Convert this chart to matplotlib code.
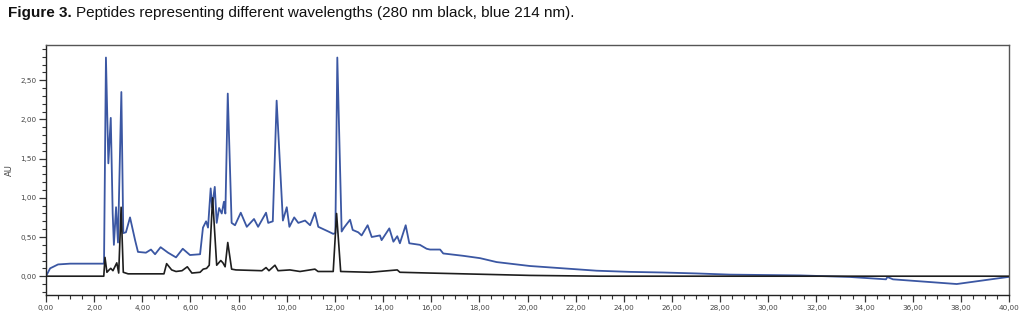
import matplotlib
matplotlib.use("Agg")
import matplotlib.pyplot as plt
from matplotlib.ticker import MultipleLocator, FuncFormatter

# Blue trace (214 nm): retention time (min) and absorbance (AU)
t_blue = [0.00, 0.17, 0.50, 1.00, 2.35, 2.41, 2.49, 2.59, 2.69, 2.77, 2.82, 2.91, 2.99,
          3.13, 3.21, 3.32, 3.49, 3.70, 3.82, 4.15, 4.36, 4.53, 4.76, 5.07, 5.40, 5.68,
          5.98, 6.40, 6.52, 6.65, 6.73, 6.84, 6.90, 7.01, 7.09, 7.19, 7.30, 7.39, 7.45,
          7.55, 7.71, 7.85, 8.09, 8.34, 8.64, 8.81, 9.14, 9.23, 9.42, 9.58, 9.84, 10.00,
          10.11, 10.31, 10.48, 10.76, 10.97, 11.17, 11.31, 11.45, 11.73, 11.93, 12.02,
          12.10, 12.28, 12.38, 12.63, 12.74, 12.97, 13.11, 13.36, 13.53, 13.87, 13.94,
          14.26, 14.43, 14.59, 14.70, 14.94, 15.09, 15.53, 15.81, 15.95, 16.37, 16.50,
          17.33, 18.03, 18.72, 20.10, 21.49, 22.87, 24.26, 25.64, 27.03, 28.41, 31.32,
          33.40, 34.89, 34.95, 35.18, 37.83, 39.96, 40.00]
au_blue = [0.00, 0.10, 0.15, 0.16, 0.16, 0.16, 2.79, 1.44, 2.02, 0.80, 0.40, 0.88, 0.43,
           2.35, 0.55, 0.56, 0.75, 0.46, 0.31, 0.30, 0.34, 0.28, 0.37, 0.30, 0.24, 0.35,
           0.27, 0.28, 0.62, 0.70, 0.62, 1.12, 0.88, 1.14, 0.68, 0.87, 0.80, 0.95, 0.80,
           2.33, 0.68, 0.65, 0.81, 0.63, 0.73, 0.63, 0.81, 0.68, 0.70, 2.24, 0.71, 0.88,
           0.63, 0.75, 0.68, 0.71, 0.65, 0.81, 0.63, 0.61, 0.57, 0.54, 0.55,
           2.79, 0.57, 0.62, 0.72, 0.59, 0.56, 0.52, 0.65, 0.50, 0.52, 0.46,
           0.61, 0.44, 0.51, 0.42, 0.65, 0.42, 0.40, 0.35, 0.34, 0.34, 0.29,
           0.26, 0.23, 0.18, 0.13, 0.10, 0.07, 0.055, 0.047, 0.035, 0.02, 0.01,
           -0.01, -0.04, -0.01, -0.04, -0.10, -0.01, -0.01]

# Black trace (280 nm)
t_black = [0.00, 2.40, 2.45, 2.53, 2.62, 2.69, 2.78, 2.94, 3.02, 3.12, 3.21, 3.41, 4.90,
           5.01, 5.22, 5.40, 5.65, 5.87, 6.06, 6.40, 6.53, 6.67, 6.78, 6.92, 7.09, 7.26,
           7.35, 7.44, 7.55, 7.71, 7.89, 8.97, 9.14, 9.26, 9.51, 9.64, 10.13, 10.55,
           11.17, 11.30, 11.93, 12.07, 12.24, 13.46, 14.59, 14.70, 15.95, 20.10, 23.00,
           40.00]
au_black = [0.00, 0.00, 0.24, 0.05, 0.08, 0.10, 0.07, 0.17, 0.04, 0.88, 0.05, 0.03, 0.03,
            0.16, 0.08, 0.06, 0.07, 0.12, 0.04, 0.05, 0.09, 0.10, 0.14, 1.00, 0.14, 0.20,
            0.17, 0.12, 0.43, 0.09, 0.08, 0.07, 0.11, 0.07, 0.14, 0.07, 0.08, 0.06,
            0.09, 0.06, 0.06, 0.80, 0.06, 0.05, 0.08, 0.05, 0.04, 0.01, 0.00,
            0.00]

x_major = 2.0
y_major = 0.5

fig = plt.figure(figsize=(10.21, 3.18), dpi=100)
ax = fig.add_axes([46/1021, 1 - 295/318, (1009 - 46)/1021, (295 - 45)/318])

ax.plot(t_blue, au_blue, color="#3b57a3", lw=1.3, zorder=2)
ax.plot(t_black, au_black, color="#1e1e1e", lw=1.2, zorder=3)

ax.set_xlim(0, 40)
ax.set_ylim(-0.24, 2.95)

comma = FuncFormatter(lambda v, p: f"{v:.2f}".replace(".", ","))
ax.xaxis.set_major_locator(MultipleLocator(x_major))
ax.xaxis.set_minor_locator(MultipleLocator(0.5))
ax.yaxis.set_major_locator(MultipleLocator(y_major))
ax.yaxis.set_minor_locator(MultipleLocator(0.1))
ax.xaxis.set_major_formatter(comma)
ax.yaxis.set_major_formatter(comma)
ax.set_yticks([0, 0.5, 1.0, 1.5, 2.0, 2.5])

ax.tick_params(which="major", length=5, width=0.9, color="#333333",
               labelsize=5.2, labelcolor="#444444", pad=2)
ax.tick_params(which="minor", length=3, width=0.8, color="#333333")
for s in ax.spines.values():
    s.set_color("#555555")
    s.set_linewidth(1.0)
ax.spines["left"].set_color("#222222")
ax.spines["bottom"].set_color("#222222")

ax.set_ylabel("AU", fontsize=6, color="#444444")
ax.yaxis.set_label_coords(-32/963, 0.5)

fam = ["Liberation Sans", "DejaVu Sans"]
ty = 1 - 13/318
t1 = fig.text(8/1021, ty, "Figure 3.", fontsize=11, fontweight="bold",
              family=fam, va="center", ha="left", color="#111111")
renderer = fig.canvas.get_renderer()
bb = t1.get_window_extent(renderer=renderer)
x2 = (bb.x1 + 4) / fig.bbox.width
fig.text(x2, ty,
         "Peptides representing different wavelengths (280 nm black, blue 214 nm).",
         fontsize=11, family=fam, va="center", ha="left", color="#111111")

fig.savefig("out.png", dpi=100)
